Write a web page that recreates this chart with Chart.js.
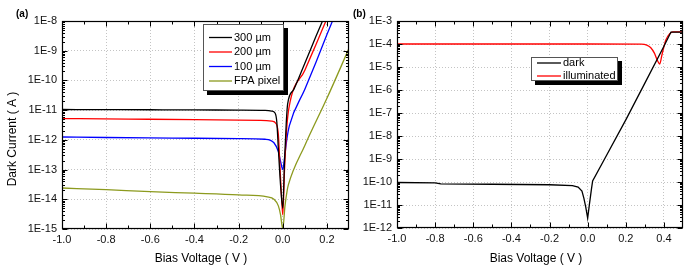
<!DOCTYPE html>
<html lang="en">
<head>
  <meta charset="UTF-8">
  <title>Dark current vs bias voltage</title>
  <style>
    body { margin: 0; background: #fff; }
    #wrap { position: relative; width: 687px; height: 267px; }
    canvas { position: absolute; top: 0; }
    #chartA { left: 0; }
    #chartB { left: 344px; }
  </style>
</head>
<body>
  <div id="wrap">
    <canvas id="chartA" width="352" height="267"></canvas>
    <canvas id="chartB" width="343" height="267"></canvas>
  </div>

  <script src="https://cdn.jsdelivr.net/npm/chart.js@4.4.0/dist/chart.umd.min.js"></script>
  <script>
    // panel (a): dark current of detectors of different size
    const v300 = [-1.0, -0.8, -0.6, -0.4, -0.2, -0.08, -0.05, -0.035, -0.027, -0.02, -0.01, 0.0, 0.008, 0.016, 0.022, 0.05, 0.1, 0.15, 0.19];
    const i300 = [1.05e-11, 1.04e-11, 1.03e-11, 1.02e-11, 1.0e-11, 9.8e-12, 9.3e-12, 8e-12, 4e-12, 5e-13, 3e-14, 5e-15, 2e-13, 4e-12, 1.6e-11, 5e-11, 3.8e-10, 3e-9, 1.5e-8];

    const v200 = [-1.0, -0.7, -0.4, -0.1, -0.05, -0.03, -0.02, -0.012, -0.005, 0.0, 0.008, 0.018, 0.028, 0.1, 0.15, 0.2];
    const i200 = [5.2e-12, 5.0e-12, 4.8e-12, 4.5e-12, 4.3e-12, 3.5e-12, 1.5e-12, 1e-13, 1e-14, 3e-15, 1e-13, 2.5e-12, 1.2e-11, 2.2e-10, 1.6e-9, 1.2e-8];

    const v100 = [-1.0, -0.8, -0.5, -0.2, -0.08, -0.04, -0.02, -0.008, 0.0, 0.008, 0.018, 0.03, 0.1, 0.15, 0.2, 0.235];
    const i100 = [1.25e-12, 1.2e-12, 1.15e-12, 1.1e-12, 1.05e-12, 8e-13, 4e-13, 1.6e-13, 1e-13, 2.5e-13, 1e-12, 3e-12, 5e-11, 4e-10, 3.5e-9, 1.5e-8];

    const vFpa = [-1.0, -0.8, -0.6, -0.4, -0.2, -0.07, -0.04, -0.02, -0.01, 0.0, 0.01, 0.02, 0.025, 0.1, 0.2, 0.3];
    const iFpa = [2.4e-14, 2.1e-14, 1.8e-14, 1.6e-14, 1.4e-14, 1.2e-14, 1.0e-14, 6e-15, 3e-15, 1e-15, 6e-15, 2e-14, 3e-14, 6.5e-13, 2.5e-11, 1.2e-9];

    // panel (b): dark vs illuminated
    const vDark = [-1.0, -0.8, -0.77, -0.5, -0.2, -0.08, -0.05, -0.03, -0.02, -0.01, 0.0, 0.01, 0.02, 0.026, 0.1, 0.2, 0.3, 0.4, 0.437, 0.5];
    const iDark = [9.5e-11, 9.2e-11, 8.3e-11, 8.0e-11, 7.6e-11, 7.0e-11, 6.0e-11, 4.0e-11, 2.0e-11, 8e-12, 2.7e-12, 1.2e-11, 5e-11, 1.1e-10, 1.5e-9, 5e-8, 2e-6, 8e-5, 3.3e-4, 3.3e-4];

    const vIllum = [-1.0, -0.5, 0.0, 0.28, 0.31, 0.33, 0.35, 0.365, 0.378, 0.39, 0.41, 0.43, 0.447, 0.5];
    const iIllum = [1e-4, 1e-4, 1e-4, 9.8e-5, 9e-5, 7e-5, 4e-5, 2e-5, 1.35e-5, 3.5e-5, 1.5e-4, 2.8e-4, 3.4e-4, 3.4e-4];

    // axes
    const xTicksA = [-1.0, -0.8, -0.6, -0.4, -0.2, 0.0, 0.2];
    const xTicksB = [-1.0, -0.8, -0.6, -0.4, -0.2, 0.0, 0.2, 0.4];
    const yDecadesA = [-15, -14, -13, -12, -11, -10, -9, -8];
    const yDecadesB = [-12, -11, -10, -9, -8, -7, -6, -5, -4, -3];

    const FONT = "'Liberation Sans', Arial, sans-serif";

    function pts(xs, ys) {
      return xs.map((x, i) => ({ x: x, y: ys[i] }));
    }

    function line(label, xs, ys, color, smooth) {
      return {
        label: label,
        data: pts(xs, ys),
        borderColor: color,
        borderWidth: 1.3,
        pointRadius: 0,
        fill: false,
        tension: 0,
        cubicInterpolationMode: smooth ? 'monotone' : 'default'
      };
    }

    // frame, inside ticks, titles and the boxed legend
    const frame = {
      id: 'frame',
      afterDraw(chart, args, o) {
        const ctx = chart.ctx;
        const a = chart.chartArea;
        const x = chart.scales.x, y = chart.scales.y;
        const L = Math.round(a.left) + 0.5, R = Math.round(a.right) - 0.5;
        const T = Math.round(a.top) + 0.5, B = Math.round(a.bottom) - 0.5;
        ctx.save();
        ctx.strokeStyle = '#000';
        ctx.lineWidth = 1;

        // x ticks (major on labels, minor halfway)
        const step = o.xTicks[1] - o.xTicks[0];
        const xs = [];
        o.xTicks.forEach(v => { xs.push([v, 5]); xs.push([v + step / 2, 3]); });
        ctx.beginPath();
        xs.forEach(([v, len]) => {
          if (v <= x.min || v >= x.max) return;
          const px = Math.round(x.getPixelForValue(v)) + 0.5;
          ctx.moveTo(px, B); ctx.lineTo(px, B - len);
          ctx.moveTo(px, T); ctx.lineTo(px, T + len);
        });
        // y ticks, decades and 2..9 minors
        o.decades.forEach((d, i) => {
          const base = Number('1e' + d);
          const marks = [[base, 5]];
          if (i < o.decades.length - 1) for (let k = 2; k <= 9; k++) marks.push([k * base, 2.5]);
          marks.forEach(([v, len]) => {
            const py = Math.round(y.getPixelForValue(v)) + 0.5;
            ctx.moveTo(L, py); ctx.lineTo(L + len, py);
            ctx.moveTo(R, py); ctx.lineTo(R - len, py);
          });
        });
        ctx.stroke();
        ctx.lineWidth = 1.2;
        ctx.strokeRect(L, T, R - L, B - T);

        // texts
        ctx.fillStyle = '#000';
        ctx.font = 'bold 10px ' + FONT;
        ctx.textAlign = 'left';
        ctx.textBaseline = 'middle';
        ctx.fillText(o.panel[0], o.panel[1], o.panel[2]);

        ctx.font = '12px ' + FONT;
        ctx.textAlign = 'center';
        ctx.fillText('Bias Voltage ( V )', o.xTitle[0], o.xTitle[1]);
        if (o.yTitle) {
          ctx.save();
          ctx.translate(o.yTitle[0], o.yTitle[1]);
          ctx.rotate(-Math.PI / 2);
          ctx.fillText('Dark Current ( A )', 0, 0);
          ctx.restore();
        }

        // legend box with shadow
        const g = o.legend;
        ctx.fillStyle = '#000';
        ctx.fillRect(g.x + 4, g.y + 4, g.w, g.h);
        ctx.fillStyle = '#fff';
        ctx.fillRect(g.x, g.y, g.w, g.h);
        ctx.lineWidth = 1;
        ctx.strokeStyle = '#555';
        ctx.strokeRect(g.x + 0.5, g.y + 0.5, g.w - 1, g.h - 1);
        ctx.font = '11px ' + FONT;
        ctx.textAlign = 'left';
        chart.data.datasets.forEach((ds, i) => {
          const ry = g.rows[i];
          ctx.strokeStyle = ds.borderColor;
          ctx.lineWidth = 1.3;
          ctx.beginPath();
          ctx.moveTo(g.x + g.l0, ry); ctx.lineTo(g.x + g.l1, ry);
          ctx.stroke();
          ctx.fillStyle = '#000';
          ctx.fillText(ds.label, g.x + g.l1 + 2, ry);
        });
        ctx.restore();
      }
    };

    function makeChart(id, datasets, cfg) {
      return new Chart(document.getElementById(id), {
        type: 'line',
        data: { datasets: datasets },
        options: {
          responsive: false,
          animation: false,
          layout: { padding: cfg.padding },
          plugins: {
            legend: { display: false },
            tooltip: { enabled: false },
            frame: cfg.frame
          },
          scales: {
            x: {
              type: 'linear',
              min: cfg.xMin,
              max: cfg.xMax,
              afterBuildTicks: s => { s.ticks = cfg.frame.xTicks.map(v => ({ value: v })); },
              afterFit: s => { s.height = cfg.xHeight; },
              ticks: {
                autoSkip: false,
                maxRotation: 0,
                padding: 4,
                color: '#111',
                font: { family: FONT, size: 11 },
                callback: v => Number(v).toFixed(1)
              },
              grid: { color: '#c4c4c4', drawTicks: false },
              border: { display: false, dash: [1, 2] }
            },
            y: {
              type: 'logarithmic',
              min: Number('1e' + cfg.frame.decades[0]),
              max: Number('1e' + cfg.frame.decades[cfg.frame.decades.length - 1]),
              afterBuildTicks: s => { s.ticks = cfg.frame.decades.map(d => ({ value: Number('1e' + d) })); },
              afterFit: s => { s.width = cfg.yWidth; },
              ticks: {
                autoSkip: false,
                padding: 5,
                color: '#111',
                font: { family: FONT, size: 11 },
                callback: v => '1E' + Math.round(Math.log10(v))
              },
              grid: { color: '#c4c4c4', drawTicks: false },
              border: { display: false, dash: [1, 2] }
            }
          }
        },
        plugins: [frame]
      });
    }

    makeChart('chartA', [
      line('300 \u00b5m', v300, i300, '#000000', true),
      line('200 \u00b5m', v200, i200, '#ff0000', true),
      line('100 \u00b5m', v100, i100, '#0000ff', true),
      line('FPA pixel', vFpa, iFpa, '#8c9a1e', true)
    ], {
      padding: { top: 21, right: 3, left: 0, bottom: 0 },
      xMin: -1.0, xMax: 0.3, xHeight: 38, yWidth: 62,
      frame: {
        xTicks: xTicksA, decades: yDecadesA,
        panel: ['(a)', 16, 14],
        xTitle: [201, 259],
        yTitle: [13, 139],
        legend: { x: 203, y: 24, w: 81, h: 67, l0: 6, l1: 29, rows: [37.5, 52, 66.5, 81] }
      }
    });

    makeChart('chartB', [
      line('dark', vDark, iDark, '#000000', false),
      line('illuminated', vIllum, iIllum, '#ff0000', true)
    ], {
      padding: { top: 21, right: 4, left: 0, bottom: 0 },
      xMin: -1.0, xMax: 0.5, xHeight: 39, yWidth: 53,
      frame: {
        xTicks: xTicksB, decades: yDecadesB,
        panel: ['(b)', 9, 14],
        xTitle: [192, 259],
        yTitle: null,
        legend: { x: 187, y: 57, w: 87, h: 24, l0: 6, l1: 30, rows: [63, 76] }
      }
    });
  </script>
</body>
</html>
